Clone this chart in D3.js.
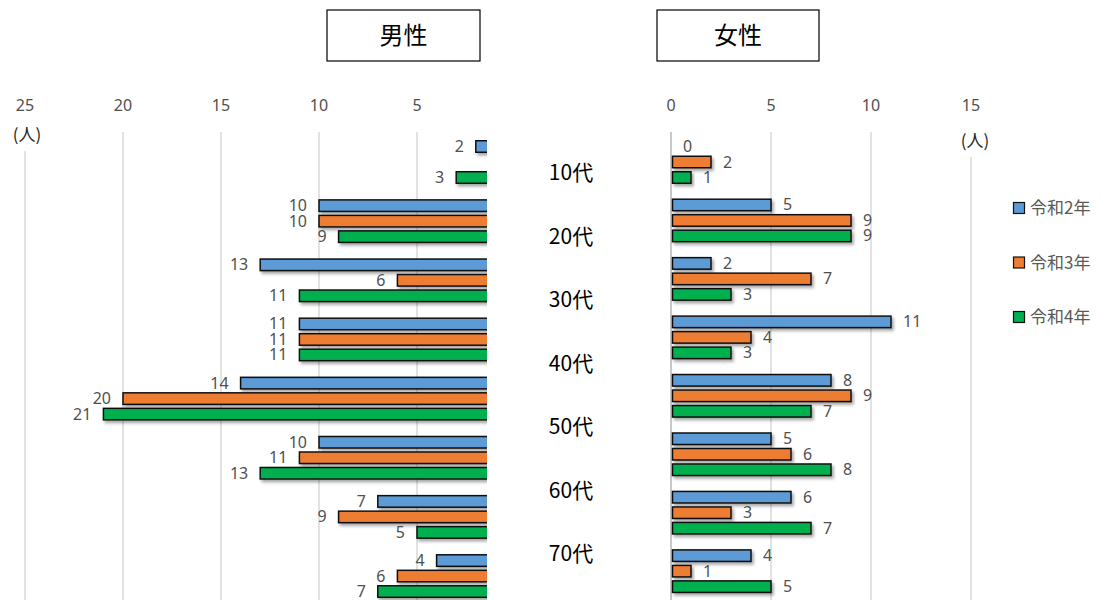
<!DOCTYPE html>
<html>
<head>
<meta charset="utf-8">
<script src="https://cdn.jsdelivr.net/npm/d3@7"></script>
<style>
  body { margin: 0; background: #fff; }
  text { font-family: "Noto Sans", "Noto Sans CJK JP", sans-serif; }
  .jp { font-family: "Noto Sans CJK JP", sans-serif; }
  .num { fill: #505050; font-size: 16px; }
</style>
</head>
<body>
<svg id="chart"></svg>
<script>
// age groups (the last one is cut off at the bottom of the picture)
let ages = ["10代", "20代", "30代", "40代", "50代", "60代", "70代", "80代以上"];
let years = ["令和2年", "令和3年", "令和4年"];
let colors = ["#5B9BD5", "#ED7D31", "#00B050"];

let male2 = [2, 10, 13, 11, 14, 10, 7, 4];
let male3 = [0, 10, 6, 11, 20, 11, 9, 6];
let male4 = [3, 9, 11, 11, 21, 13, 5, 7];

let female2 = [0, 5, 2, 11, 8, 5, 6, 4];
let female3 = [2, 9, 7, 4, 9, 6, 3, 1];
let female4 = [1, 9, 3, 3, 7, 8, 7, 5];

let maleTicks = [25, 20, 15, 10, 5];
let femaleTicks = [0, 5, 10, 15];

function rows(s2, s3, s4) {
    let out = [];
    ages.forEach((a, i) => {
        out.push({ age: a, year: years[0], v: s2[i] });
        out.push({ age: a, year: years[1], v: s3[i] });
        out.push({ age: a, year: years[2], v: s4[i] });
    });
    return out;
}

function drawChart() {
    let w = 1102, h = 600;
    let svg = d3.select("#chart").attr("width", w).attr("height", h);

    let defs = svg.append("defs");
    defs.append("filter").attr("id", "shadow")
        .attr("x", "-10%").attr("y", "-50%").attr("width", "130%").attr("height", "250%")
        .append("feDropShadow")
        .attr("dx", 2).attr("dy", 2.5).attr("stdDeviation", 1.6)
        .attr("flood-color", "#000").attr("flood-opacity", 0.35);
    defs.append("clipPath").attr("id", "leftClip")
        .append("rect").attr("x", 0).attr("y", 120).attr("width", 487).attr("height", 500);

    let color = d3.scaleOrdinal().domain(years).range(colors);

    // scales
    let xL = d3.scaleLinear().domain([0, 25]).range([515, 25]);
    let xR = d3.scaleLinear().domain([0, 15]).range([671, 971]);
    let yL = d3.scaleBand().domain(ages).range([140, 140 + 8 * 59.15]);
    let yR = d3.scaleBand().domain(ages).range([140, 140 + 8 * 58.45]);
    let inner = d3.scaleBand().domain(years).range([0, 44]).paddingInner(0.16);
    let yLabel = d3.scalePoint().domain(ages).range([173, 173 + 7 * 63.5]);

    // gridlines
    svg.append("g").selectAll("line").data(maleTicks).enter().append("line")
        .attr("x1", d => xL(d)).attr("x2", d => xL(d))
        .attr("y1", 132).attr("y2", h)
        .attr("stroke", "#d9d9d9").attr("stroke-width", 1.5);
    svg.append("g").selectAll("line").data(femaleTicks).enter().append("line")
        .attr("x1", d => xR(d)).attr("x2", d => xR(d))
        .attr("y1", 132).attr("y2", h)
        .attr("stroke", d => d === 0 ? "#c8c8c8" : "#d9d9d9")
        .attr("stroke-width", d => d === 0 ? 2 : 1.5);

    // tick labels
    svg.append("g").selectAll("text").data(maleTicks).enter().append("text")
        .attr("class", "num").attr("x", d => xL(d)).attr("y", 111)
        .attr("text-anchor", "middle").text(d => d);
    svg.append("g").selectAll("text").data(femaleTicks).enter().append("text")
        .attr("class", "num").attr("x", d => xR(d)).attr("y", 111)
        .attr("text-anchor", "middle").text(d => d);

    // unit labels with white background
    [[27, 135], [975, 141]].forEach(p => {
        svg.append("rect").attr("x", p[0] - 18).attr("y", p[1] - 14)
            .attr("width", 36).attr("height", 30).attr("fill", "#fff");
        svg.append("text").attr("class", "jp")
            .attr("x", p[0]).attr("y", p[1] + 6).attr("text-anchor", "middle")
            .style("font-size", "17px").style("fill", "#262626").text("(人)");
    });

    // male bars
    let maleData = rows(male2, male3, male4);
    let gL = svg.append("g").attr("clip-path", "url(#leftClip)");
    gL.selectAll("rect").data(maleData.filter(d => d.v > 0)).enter().append("rect")
        .attr("x", d => xL(d.v))
        .attr("y", d => yL(d.age) + inner(d.year) + 0.75)
        .attr("width", d => xL(0) - xL(d.v))
        .attr("height", inner.bandwidth() - 1.5)
        .attr("fill", d => color(d.year))
        .attr("stroke", "#111").attr("stroke-width", 1.5)
        .attr("filter", "url(#shadow)");
    gL.selectAll("text").data(maleData).enter().append("text")
        .attr("class", "num")
        .attr("x", d => xL(d.v) - 12)
        .attr("y", d => yL(d.age) + inner(d.year) + inner.bandwidth() / 2 + 5.5)
        .attr("text-anchor", "end").text(d => d.v);

    // female bars
    let femaleData = rows(female2, female3, female4);
    let gR = svg.append("g");
    gR.selectAll("rect").data(femaleData.filter(d => d.v > 0)).enter().append("rect")
        .attr("x", xR(0) + 1.5)
        .attr("y", d => yR(d.age) + inner(d.year) + 0.75)
        .attr("width", d => xR(d.v) - xR(0) - 1.5)
        .attr("height", inner.bandwidth() - 1.5)
        .attr("fill", d => color(d.year))
        .attr("stroke", "#111").attr("stroke-width", 1.5)
        .attr("filter", "url(#shadow)");
    gR.selectAll("text").data(femaleData).enter().append("text")
        .attr("class", "num")
        .attr("x", d => xR(d.v) + 12)
        .attr("y", d => yR(d.age) + inner(d.year) + inner.bandwidth() / 2 + 5.5)
        .attr("text-anchor", "start").text(d => d.v);

    // age labels in the middle (only those that fall inside the picture)
    svg.append("g").selectAll("text").data(ages.filter(d => yLabel(d) + 10 < h)).enter().append("text")
        .attr("class", "jp")
        .attr("x", 571).attr("y", d => yLabel(d) + 7)
        .attr("text-anchor", "middle")
        .style("font-size", "21px").style("fill", "#000")
        .text(d => d);

    // title boxes
    [["男性", 327, 153], ["女性", 657, 162]].forEach(t => {
        svg.append("rect").attr("x", t[1]).attr("y", 10)
            .attr("width", t[2]).attr("height", 51)
            .attr("fill", "#fff").attr("stroke", "#000").attr("stroke-width", 1.2);
        svg.append("text").attr("class", "jp")
            .attr("x", t[1] + t[2] / 2).attr("y", 44)
            .attr("text-anchor", "middle")
            .style("font-size", "24px").style("fill", "#000").text(t[0]);
    });

    // legend
    let leg = svg.append("g").selectAll("g").data(years).enter().append("g")
        .attr("transform", (d, i) => `translate(1013, ${208 + i * 54.5})`);
    leg.append("rect").attr("x", 0.5).attr("y", -5.5).attr("width", 11).attr("height", 11)
        .attr("fill", d => color(d)).attr("stroke", "#111").attr("stroke-width", 1.2);
    leg.append("text").attr("class", "jp")
        .attr("x", 17).attr("y", 6)
        .style("font-size", "17px").style("fill", "#595959")
        .text(d => d);
}

window.onload = function() {
    drawChart();
}
</script>
</body>
</html>
